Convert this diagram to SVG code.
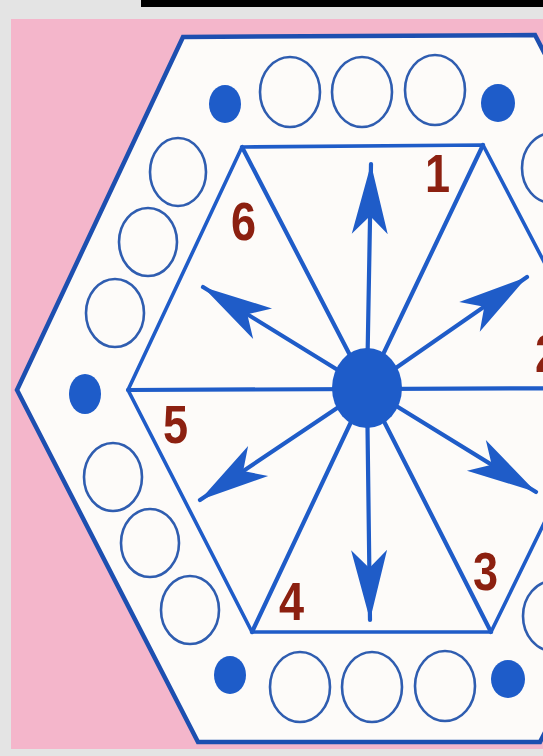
<svg xmlns="http://www.w3.org/2000/svg" width="543" height="756" viewBox="0 0 543 756">
<defs>
<style>
.ring{fill:none;stroke:#2f5db0;stroke-width:2.6}
.dot{fill:#1e5cc9}
.ln{stroke:#1f5cc8;stroke-width:4.2;fill:none;stroke-linecap:round}
.hex{stroke:#1f5cc8;stroke-width:3.6;fill:none;stroke-linejoin:miter}
.num{font-family:"Liberation Sans",Arial,sans-serif;font-weight:bold;font-size:53px;fill:#8c2010}
</style>
<marker id="ah" viewBox="-72 -20 74 40" refX="0" refY="0" markerUnits="userSpaceOnUse" markerWidth="74" markerHeight="40" orient="auto">
<path d="M0,0 L-70,-18 L-52,0 L-70,18 Z" fill="#1f5cc8"/>
</marker>
</defs>
<rect x="0" y="0" width="543" height="756" fill="#e4e4e4"/>
<rect x="141" y="0" width="402" height="7" fill="#000"/>
<rect x="11" y="19" width="532" height="730" fill="#f4b6cb"/>
<g id="outer-hexagon">
<polygon points="183,37 535,35 720,389 540,742 198,742 17,390" fill="#fdfbf9" stroke="#1d4fb0" stroke-width="4.5"/>
</g>
<g id="rings">
<ellipse class="ring" cx="290" cy="92" rx="30" ry="35"/>
<ellipse class="ring" cx="362" cy="92" rx="30" ry="35"/>
<ellipse class="ring" cx="435" cy="90" rx="30" ry="35"/>
<ellipse class="ring" cx="300" cy="687" rx="30" ry="35"/>
<ellipse class="ring" cx="372" cy="687" rx="30" ry="35"/>
<ellipse class="ring" cx="445" cy="686" rx="30" ry="35"/>
<ellipse class="ring" cx="178" cy="172" rx="28" ry="34"/>
<ellipse class="ring" cx="148" cy="242" rx="29" ry="34"/>
<ellipse class="ring" cx="115" cy="313" rx="29" ry="34"/>
<ellipse class="ring" cx="113" cy="477" rx="29" ry="34"/>
<ellipse class="ring" cx="150" cy="543" rx="29" ry="34"/>
<ellipse class="ring" cx="190" cy="610" rx="29" ry="34"/>
<ellipse class="ring" cx="552" cy="168" rx="30" ry="35"/>
<ellipse class="ring" cx="553" cy="616" rx="30" ry="35"/>
</g>
<g id="dots">
<ellipse class="dot" cx="225" cy="104" rx="16" ry="19"/>
<ellipse class="dot" cx="498" cy="103" rx="17" ry="19"/>
<ellipse class="dot" cx="85" cy="394" rx="16" ry="20"/>
<ellipse class="dot" cx="230" cy="675" rx="16" ry="19"/>
<ellipse class="dot" cx="508" cy="679" rx="17" ry="19"/>
</g>
<g id="inner-hexagon">
<polygon class="hex" points="242,147 483,145 610,388 491,632 252,632 128,390"/>
</g>
<g id="connectors">
<line class="ln" x1="367" y1="388" x2="242" y2="147"/>
<line class="ln" x1="367" y1="388" x2="483" y2="145"/>
<line class="ln" x1="128" y1="390" x2="610" y2="388"/>
<line class="ln" x1="367" y1="388" x2="252" y2="632"/>
<line class="ln" x1="367" y1="388" x2="491" y2="632"/>
<line class="ln" x1="367" y1="388" x2="371" y2="164" marker-end="url(#ah)"/>
<line class="ln" x1="367" y1="388" x2="370" y2="620" marker-end="url(#ah)"/>
<line class="ln" x1="367" y1="388" x2="203" y2="287" marker-end="url(#ah)"/>
<line class="ln" x1="367" y1="388" x2="527" y2="277" marker-end="url(#ah)"/>
<line class="ln" x1="367" y1="388" x2="200" y2="500" marker-end="url(#ah)"/>
<line class="ln" x1="367" y1="388" x2="536" y2="492" marker-end="url(#ah)"/>
</g>
<g id="hub">
<ellipse cx="367" cy="388" rx="35" ry="40" fill="#1e5cc9"/>
</g>
<g id="labels">
<text class="num" transform="translate(425,192) scale(0.85,1)">1</text>
<text class="num" transform="translate(535,372) scale(0.85,1)">2</text>
<text class="num" transform="translate(473,590) scale(0.85,1)">3</text>
<text class="num" transform="translate(279,620) scale(0.85,1)">4</text>
<text class="num" transform="translate(163,443) scale(0.85,1)">5</text>
<text class="num" transform="translate(231,240) scale(0.85,1)">6</text>
</g>
</svg>
